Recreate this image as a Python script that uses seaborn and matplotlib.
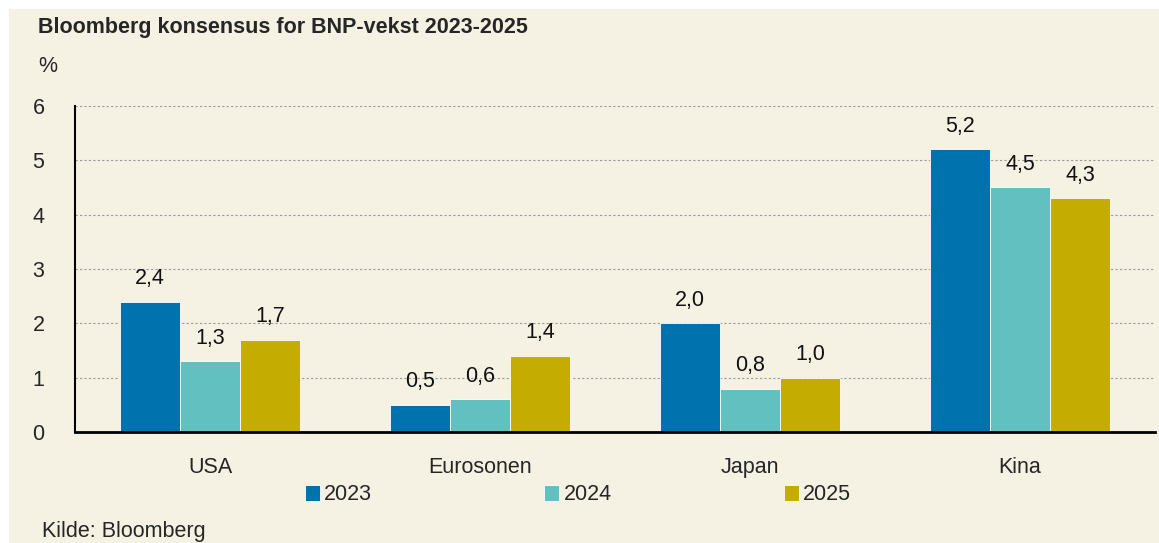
"""
Bloomberg konsensus for BNP-vekst 2023-2025
"""

import matplotlib
matplotlib.use("Agg")
import matplotlib.pyplot as plt
from matplotlib.patches import Rectangle
import seaborn as sns
import pandas as pd

regions = ["USA", "Eurosonen", "Japan", "Kina"]
years = ["2023", "2024", "2025"]
growth_2023 = [2.4, 0.5, 2.0, 5.2]
growth_2024 = [1.3, 0.6, 0.8, 4.5]
growth_2025 = [1.7, 1.4, 1.0, 4.3]
y_ticks = [0, 1, 2, 3, 4, 5, 6]

colors = ["#0072AE", "#62C1C0", "#C4AC00"]
cream = "#F5F1E3"
fs = 15.5

rows = []
for year, vals in zip(years, [growth_2023, growth_2024, growth_2025]):
    for region, v in zip(regions, vals):
        rows.append({"region": region, "year": year, "value": v})
df = pd.DataFrame(rows)

sns.set_style("white")
plt.rcParams["font.family"] = ["Liberation Sans", "DejaVu Sans"]

fig = plt.figure(figsize=(11.59, 5.43), dpi=100, facecolor="white")
fig.patches.append(Rectangle((9 / 1159, 0), 1, 1 - 9 / 543,
                             transform=fig.transFigure, facecolor=cream,
                             edgecolor="none", zorder=-10))
ax = fig.add_axes([75 / 1159, 1 - 432 / 543, 1080 / 1159, 326 / 543])
ax.set_facecolor(cream)

sns.barplot(data=df, x="region", y="value", hue="year", palette=colors,
            width=2 / 3, ax=ax, edgecolor="white", linewidth=0.6,
            saturation=1, errorbar=None)

for cont in ax.containers:
    labels = [f"{b.get_height():.1f}".replace(".", ",") for b in cont]
    ax.bar_label(cont, labels=labels, padding=9, fontsize=fs, color="#111111")

ax.set_ylim(0, 6)
ax.set_xlim(-0.5, 3.5)
ax.set_yticks(y_ticks)
ax.set_yticklabels([str(t) for t in y_ticks], fontsize=fs)
ax.tick_params(axis="y", length=0, pad=22)
ax.tick_params(axis="x", length=0, pad=18, labelsize=fs)
ax.set_xlabel("")
ax.set_ylabel("")
ax.yaxis.grid(True, linestyle=(0, (2, 2)), color="#999999", linewidth=0.8)
ax.set_axisbelow(True)

for side in ["top", "right"]:
    ax.spines[side].set_visible(False)
ax.spines["left"].set_color("black")
ax.spines["left"].set_linewidth(1.5)
ax.spines["bottom"].set_color("black")
ax.spines["bottom"].set_linewidth(2)

leg = ax.legend(loc="center", bbox_to_anchor=(578 / 1159, 1 - 495 / 543),
                bbox_transform=fig.transFigure, ncol=3, frameon=False,
                fontsize=fs, handlelength=0.7, handleheight=0.7,
                handletextpad=0.2, columnspacing=8.0)
leg.set_title(None)

fig.text(38 / 1159, 1 - 28 / 543, "Bloomberg konsensus for BNP-vekst 2023-2025",
         fontsize=15.5, fontweight="bold", va="center", ha="left")
fig.text(38 / 1159, 1 - 66 / 543, "%", fontsize=fs, va="center", ha="left")
fig.text(42 / 1159, 1 - 531 / 543, "Kilde: Bloomberg", fontsize=fs,
         va="center", ha="left")

fig.savefig("out.png", dpi=100, facecolor="white")
